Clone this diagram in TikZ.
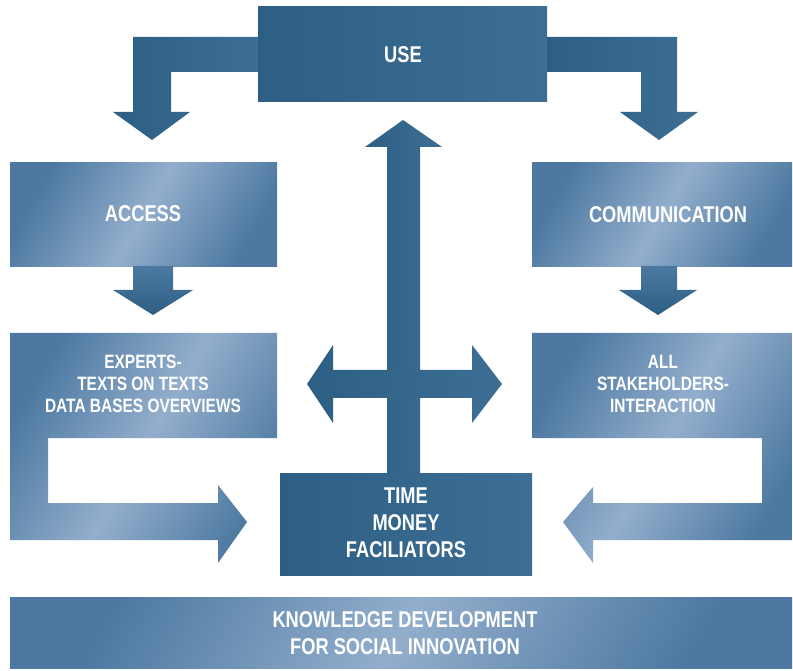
\documentclass[tikz,border=0pt]{standalone}
\usepackage{fontspec}
\setmainfont{Liberation Sans}[FakeStretch=0.8]
\definecolor{usedark}{HTML}{2D5E83}
\definecolor{usemid}{HTML}{3D6F95}
\definecolor{boxdark}{HTML}{4D79A1}
\definecolor{boxlight}{HTML}{93AECC}
\tikzset{
  darkshape/.style={draw=none,left color=usedark,right color=usemid},
  lightshape/.style={draw=none,left color=boxdark,right color=boxdark,middle color=boxlight,shading angle=60},
  arrowshape/.style={draw=none,top color=boxdark,bottom color=usedark},
  label/.style={text=white,font=\bfseries\fontsize{13}{15.3}\selectfont,align=center},
  smalllabel/.style={text=white,font=\bfseries\fontsize{11}{12.5}\selectfont,align=center}
}
\begin{document}
\begin{tikzpicture}[x=0.02cm,y=-0.02cm]
		\useasboundingbox (0,0) rectangle (793,671);

		% use box and its two bent arrows
		\draw[darkshape] (258,37) -- (133,37) -- (133,112) -- (113,112) -- (152,140) -- (190,112) -- (171,112) -- (171,72) -- (258,72) -- cycle;
		\draw[darkshape] (547,37) -- (677,37) -- (677,112) -- (698,112) -- (659,140) -- (620,112) -- (641,112) -- (641,72) -- (547,72) -- cycle;
		\draw[darkshape] (258,7) rectangle (547,102);
		\node[label] (use) at (403,55) {USE};

		% access side
		\draw[lightshape] (10,163) rectangle (277,267);
		\node[label] (access) at (143,214) {ACCESS};
		\draw[arrowshape] (133,266) -- (133,290) -- (113,290) -- (153,315) -- (193,290) -- (173,290) -- (173,266) -- cycle;
		\draw[lightshape] (10,333) -- (277,333) -- (277,438) -- (48,438) -- (48,503) -- (218,503) -- (218,485)
			-- (247,522) -- (218,563) -- (218,540) -- (10,540) -- cycle;
		\node[smalllabel] (experts) at (143,384) {EXPERTS-\\TEXTS ON TEXTS\\DATA BASES OVERVIEWS};

		% communication side
		\draw[lightshape] (532,163) rectangle (792,267);
		\node[label] (comm) at (668,215) {COMMUNICATION};
		\draw[arrowshape] (641,266) -- (641,290) -- (619,290) -- (658,315) -- (697,290) -- (677,290) -- (677,266) -- cycle;
		\draw[lightshape] (532,333) -- (792,333) -- (792,540) -- (593,540) -- (593,563) -- (563,522) -- (593,487)
			-- (593,503) -- (762,503) -- (762,438) -- (532,438) -- cycle;
		\node[smalllabel] (stake) at (663,384) {ALL\\STAKEHOLDERS-\\INTERACTION};

		% middle arrows
		\draw[darkshape] (387,474) -- (387,147) -- (365,147) -- (403,120) -- (442,147) -- (420,147) -- (420,474) -- cycle;
		\draw[darkshape] (307,384) -- (333,345) -- (333,370) -- (472,370) -- (472,345) -- (502,384) -- (472,423)
			-- (472,398) -- (333,398) -- (333,423) -- cycle;

		% time money box
		\draw[darkshape] (280,473) rectangle (532,575);
		\node[label] (time) at (406,523) {TIME\\MONEY\\FACILIATORS};

		% bottom bar
		\draw[lightshape] (10,597) rectangle (792,668);
		\node[label] (knowledge) at (405,633) {KNOWLEDGE DEVELOPMENT\\FOR SOCIAL INNOVATION};
	\end{tikzpicture}
\end{document}
